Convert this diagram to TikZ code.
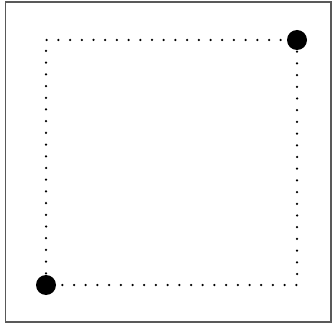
\documentclass[tikz,border=0pt]{standalone}
\begin{document}
\begin{tikzpicture}[x=1pt,y=1pt,
  frame/.style={draw=black!65,line width=1.3pt},
  dotline/.style={line width=2.5pt,line cap=round,dash pattern=on 0pt off 11.7pt},
  bigdot/.style={circle,fill=black,inner sep=0pt,minimum size=20pt}]
\useasboundingbox (0,0) rectangle (332,327);
\fill[white] (0,0) rectangle (332,327);
\draw[frame] (5.5,5) rectangle (331,325);
\coordinate (a) at (46,42);
\coordinate (tl) at (46,287);
\coordinate (b) at (297,287);
\coordinate (br) at (297,42);
\draw[dotline] (a) -- (tl) -- (b);
\draw[dotline] (b) -- (br) -- (a);
\node[bigdot] (dA) at (a) {};
\node[bigdot] (dB) at (b) {};
\end{tikzpicture}
\end{document}
